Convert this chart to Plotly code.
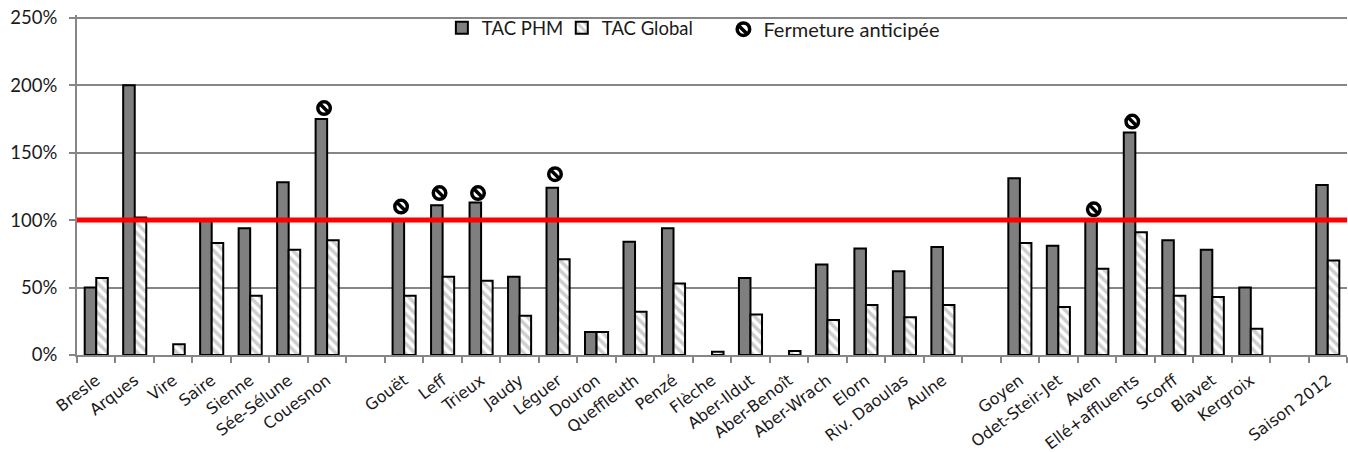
import plotly.graph_objects as go

# Rivers grouped by coast; whitespace names keep the empty separator slots distinct
categories = ["Bresle", "Arques", "Vire", "Saire", "Sienne", "Sée-Sélune", "Couesnon", " ",
              "Gouët", "Leff", "Trieux", "Jaudy", "Léguer", "Douron", "Queffleuth", "Penzé",
              "Flèche", "Aber-Ildut", "Aber-Benoît", "Aber-Wrach", "Elorn", "Riv. Daoulas", "Aulne", "  ",
              "Goyen", "Odet-Steir-Jet", "Aven", "Ellé+affluents", "Scorff", "Blavet", "Kergroix", "   ",
              "Saison 2012"]
tac_phm = [50, 200, None, 100, 94, 128, 175, None,
           100, 111, 113, 58, 124, 17, 84, 94,
           None, 57, None, 67, 79, 62, 80, None,
           131, 81, 100, 165, 85, 78, 50, None,
           126]
tac_global = [57, 102, 8, 83, 44, 78, 85, None,
              44, 58, 55, 29, 71, 17, 32, 53,
              2.5, 30, 3, 26, 37, 28, 37, None,
              83, 35.5, 64, 91, 44, 43, 19.5, None,
              70]
closure_rivers = ["Couesnon", "Gouët", "Leff", "Trieux", "Léguer", "Aven", "Ellé+affluents"]
closure_levels = [183, 110, 120, 120, 134, 108, 173]
y_ticks = [0, 50, 100, 150, 200, 250]
y_labels = ["0%", "50%", "100%", "150%", "200%", "250%"]

GREY = "#868686"
INK = "#1a1a1a"
closure_x = [categories.index(name) - 0.08 for name in closure_rivers]

fig = go.Figure()
fig.add_bar(x=categories, y=tac_phm, name="TAC PHM",
            marker=dict(color="#7f7f7f", line=dict(color="#000000", width=2)))
fig.add_bar(x=categories, y=tac_global, name="TAC Global", legend="legend3",
            marker=dict(color="#ffffff", line=dict(color="#000000", width=2),
                        pattern=dict(shape="\\", fgcolor="#9c9c9c", bgcolor="#ffffff",
                                     size=7, solidity=0.5)))
# The closure symbol is a ring with a diagonal bar, so it takes two marker traces
fig.add_scatter(x=closure_x, y=closure_levels, xaxis="x2", mode="markers",
                name="Fermeture anticipée", legend="legend2",
                marker=dict(symbol="circle-open", size=12.5, color="#000000",
                            line=dict(color="#000000", width=3.5)))
fig.add_scatter(x=closure_x, y=closure_levels, xaxis="x2", mode="markers", showlegend=False,
                marker=dict(symbol="line-nw", size=9, line=dict(color="#000000", width=3.5)))

fig.add_hline(y=100, line=dict(color="#ff0000", width=5), layer="above")
# Gap in the top gridline behind the legend
fig.add_shape(type="rect", xref="paper", yref="paper", x0=0.288, x1=0.699,
              y0=0.95, y1=1.02, fillcolor="#ffffff", line_width=0, layer="between")
# Diagonal bar of the closure key in the legend
fig.add_shape(type="line", xref="paper", yref="paper", x0=0.5207, x1=0.5277,
              y0=0.9698, y1=0.9438, line=dict(color="#000000", width=3.5), layer="above")

fig.update_layout(
    width=1348, height=452,
    margin=dict(l=77, r=0.5, t=15.3, b=96.5),
    paper_bgcolor="#ffffff", plot_bgcolor="#ffffff",
    barmode="group", bargap=0.4, bargroupgap=0,
    font=dict(family="Lato", size=18.5, color=INK),
    xaxis=dict(type="category", categoryorder="array", categoryarray=categories,
               range=[-0.5, 32.5], tickson="boundaries", ticks="outside", ticklen=6, tickwidth=1.5,
               tickcolor=GREY, showline=True, linecolor=GREY, linewidth=2, showgrid=False,
               tickangle=-37, tickfont=dict(family="DejaVu Sans", size=16, color=INK),
               ticklabelstandoff=8,
               tickmode="array", tickvals=categories, ticktext=categories, automargin=False),
    xaxis2=dict(overlaying="x", range=[-0.5, 32.5], visible=False, anchor="y"),
    yaxis=dict(range=[0, 252], tickvals=y_ticks, ticktext=y_labels, ticks="outside", ticklen=6,
               tickwidth=1.5, tickcolor=GREY, showline=True, linecolor=GREY, linewidth=2,
               showgrid=True, gridcolor=GREY, gridwidth=1.5, zeroline=False, automargin=False,
               ticklabelstandoff=8),
    legend=dict(x=0.2873, y=1.017, xanchor="left", yanchor="top", bgcolor="rgba(0,0,0,0)"),
    legend3=dict(x=0.3817, y=1.017, xanchor="left", yanchor="top", bgcolor="rgba(0,0,0,0)"),
    legend2=dict(x=0.509, y=1.0156, xanchor="left", yanchor="top", bgcolor="rgba(0,0,0,0)",
                 font=dict(size=20)),
)

fig.write_html("out.html")
